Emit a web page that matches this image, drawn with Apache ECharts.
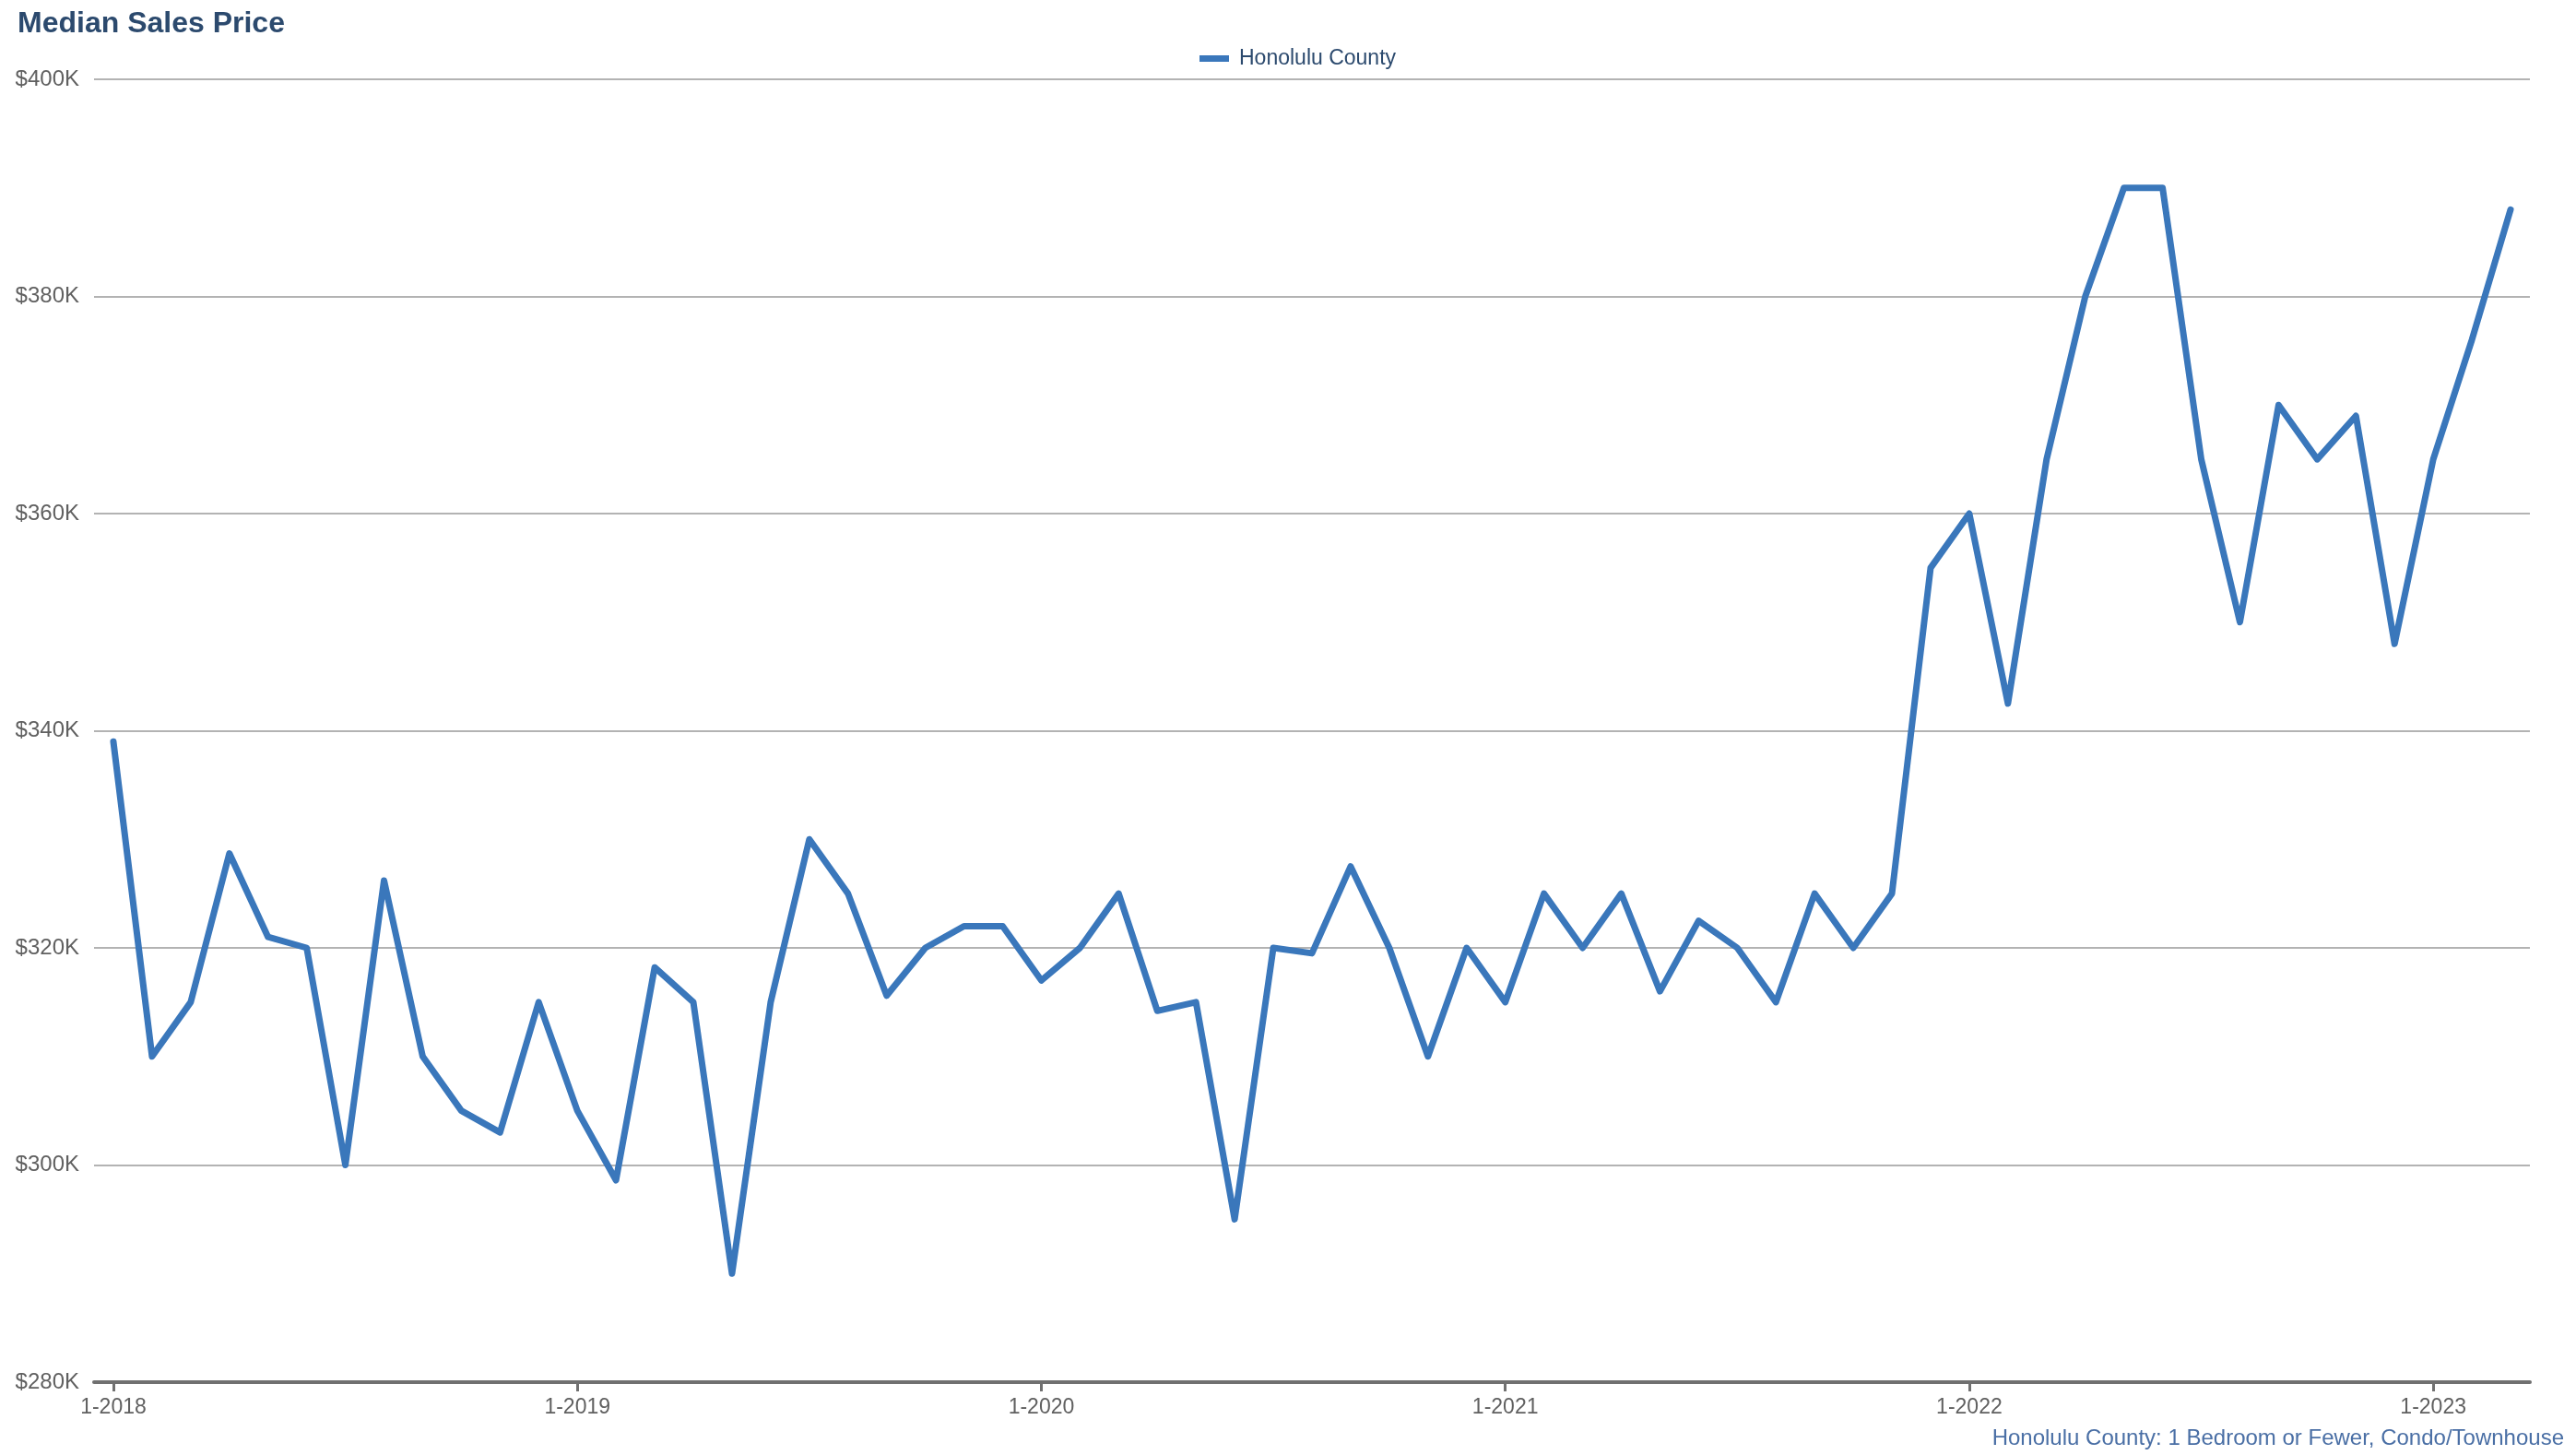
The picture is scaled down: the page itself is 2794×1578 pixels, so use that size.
<!DOCTYPE html>
<html>
<head>
<meta charset="utf-8">
<script src="https://cdn.jsdelivr.net/npm/echarts@6/dist/echarts.min.js"></script>
<style>
html,body{margin:0;padding:0;background:#fff;}
#chart{width:2794px;height:1578px;}
</style>
</head>
<body>
<div id="chart"></div>
<script>
// Months from 1-2018 to 3-2023 (label format "M-YYYY")
const startYear = 2018;
const monthCount = 63;
const categories = [];
for (let i = 0; i < monthCount; i++) {
  categories.push(((i % 12) + 1) + '-' + (startYear + Math.floor(i / 12)));
}

// Median sales price, in $K
const honoluluValues = [
  339, 310, 315, 328.7, 321, 320, 300, 326.2, 310, 305, 303, 315,
  305, 298.6, 318.2, 315, 290, 315, 330, 325, 315.6, 320, 322, 322,
  317, 320, 325, 314.2, 315, 295, 320, 319.5, 327.5, 320, 310, 320,
  315, 325, 320, 325, 316, 322.5, 320, 315, 325, 320, 325, 355,
  360, 342.5, 365, 380, 390, 390, 365, 350, 370, 365, 369, 348,
  365, 376, 388
];

const seriesName = 'Honolulu County';
const titleText = 'Median Sales Price';
const footerText = 'Honolulu County: 1 Bedroom or Fewer, Condo/Townhouse';
const yMin = 280, yMax = 400, yStep = 20;

const FONT = '"Liberation Sans", Arial, Helvetica, sans-serif';
const isJan = (idx, val) => String(val).split('-')[0] === '1';

const chart = echarts.init(document.getElementById('chart'), null, {renderer: 'canvas'});
chart.setOption({
  animation: false,
  backgroundColor: '#ffffff',
  title: [
    {
      text: titleText,
      left: 14, top: 5,
      textStyle: {fontFamily: FONT, fontSize: 32, fontWeight: 'bold', color: '#2c4a6e'}
    },
    {
      text: footerText,
      right: 8, bottom: 1,
      textStyle: {fontFamily: FONT, fontSize: 24, fontWeight: 'normal', color: '#4a6fa5'}
    }
  ],
  legend: {
    data: [seriesName],
    left: 1296, top: 47,
    icon: 'rect',
    itemWidth: 32, itemHeight: 7,
    textStyle: {fontFamily: FONT, fontSize: 23, color: '#2c4a6e', padding: [0, 0, 0, 6]}
  },
  grid: {left: 102, right: 50, top: 86, bottom: 79, containLabel: false},
  xAxis: {
    type: 'category',
    data: categories,
    boundaryGap: true,
    axisLine: {show: true, lineStyle: {color: '#707070', width: 4}},
    axisTick: {show: true, alignWithLabel: true, interval: isJan, length: 10, lineStyle: {color: '#707070', width: 3}},
    axisLabel: {interval: isJan, margin: 16, fontFamily: FONT, fontSize: 23, color: '#606060'},
    splitLine: {show: false}
  },
  yAxis: {
    type: 'value',
    min: yMin, max: yMax, interval: yStep,
    axisLine: {show: false},
    axisTick: {show: false},
    axisLabel: {margin: 16, fontFamily: FONT, fontSize: 24, color: '#606060', formatter: v => '$' + v + 'K'},
    splitLine: {show: true, lineStyle: {color: '#b3b3b3', width: 2}}
  },
  series: [{
    name: seriesName,
    type: 'line',
    data: honoluluValues,
    showSymbol: false,
    symbol: 'none',
    lineStyle: {color: '#3a77bb', width: 7, join: 'round', cap: 'round'},
    itemStyle: {color: '#3a77bb'}
  }]
});
</script>
</body>
</html>
